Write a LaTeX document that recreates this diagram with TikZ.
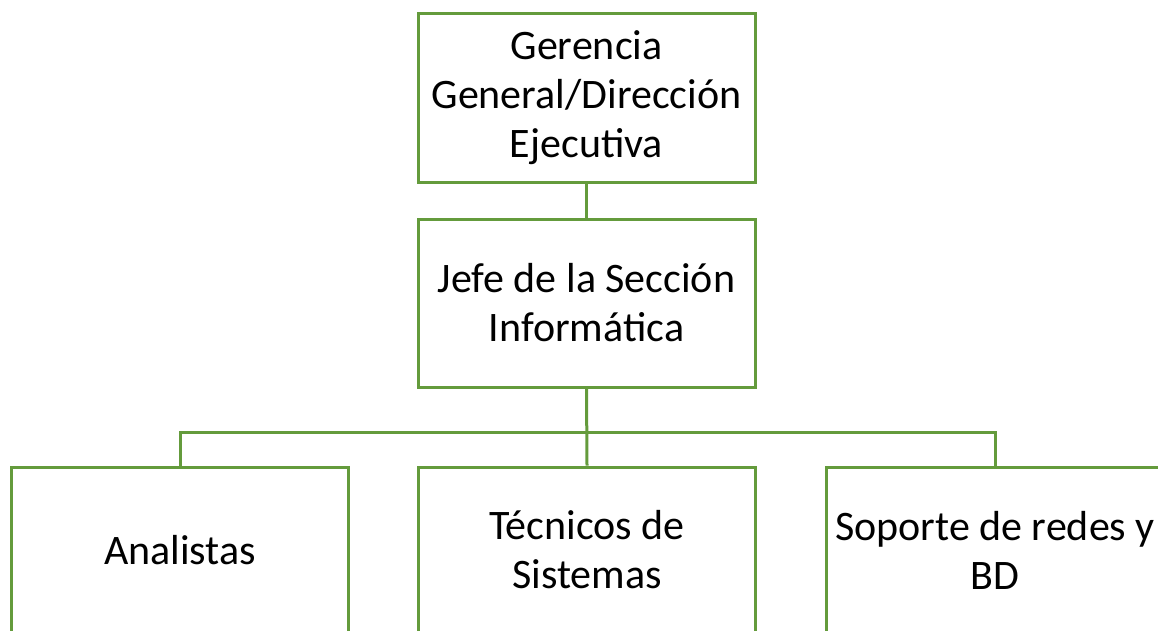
\documentclass[tikz,border=0pt]{standalone}
\usepackage{fontspec}
\setmainfont{Carlito}
\usetikzlibrary{positioning}
\definecolor{orggreen}{RGB}{100,155,60}
\tikzset{
    orgbox/.style={draw=orggreen,line width=3pt,fill=white,minimum width=337pt,
        align=center,inner sep=0pt,font=\fontsize{42}{49}\selectfont},
    orgline/.style={draw=orggreen,line width=3pt}
}

\begin{document}
\begin{tikzpicture}[x=1pt,y=-1pt]
    \useasboundingbox (0,0) rectangle (1158,630);
    \clip (0,0) rectangle (1158,630);
    \node[orgbox,minimum height=169pt] (gerencia) at (586.5,97.5) {Gerencia\\General/Dirección\\Ejecutiva};
    \node[orgbox,minimum height=168pt] (jefe) at (586.5,303) {Jefe de la Sección\\Informática};
    \node[orgbox,minimum height=166pt] (analistas) at (180,550) {Analistas};
    \node[orgbox,minimum height=166pt] (tecnicos) at (587,550) {Técnicos de\\Sistemas};
    \node[orgbox,minimum height=166pt] (soporte) at (995,550) {Soporte de redes y\\BD};
    \coordinate (bus) at (587,432);
    \draw[orgline] (gerencia.south) -- (jefe.north);
    \draw[orgline] (jefe.south) -- (tecnicos.north);
    \draw[orgline] (analistas.north) |- (bus) -| (soporte.north);
  \end{tikzpicture}
\end{document}
